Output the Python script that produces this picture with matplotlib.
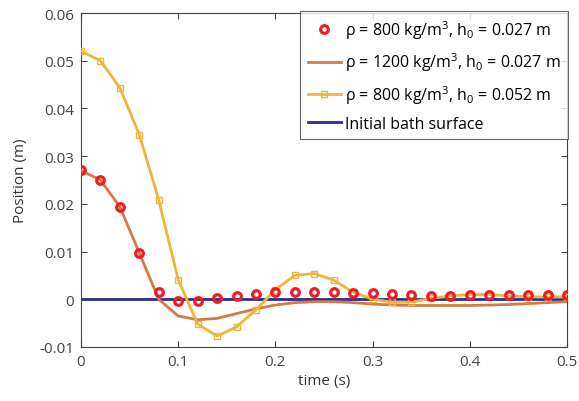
import matplotlib
matplotlib.use("Agg")
import matplotlib.pyplot as plt

plt.rcParams["font.family"] = ["Open Sans", "DejaVu Sans"]
plt.rcParams["mathtext.fontset"] = "custom"
plt.rcParams["mathtext.rm"] = "Open Sans"
plt.rcParams["mathtext.it"] = "Open Sans"
plt.rcParams["axes.unicode_minus"] = False

# sample times (s)
t = [i * 0.02 for i in range(26)]

# rho = 800, h0 = 0.027 (circles)
pos_800_027 = [0.0270, 0.0250, 0.0194, 0.0097, 0.0015, -0.0003, -0.0003, 0.0002,
               0.0007, 0.0012, 0.0015, 0.0015, 0.0015, 0.0015, 0.0013, 0.0013,
               0.0012, 0.0009, 0.0006, 0.0007, 0.0009, 0.0009, 0.0009, 0.0008,
               0.0008, 0.0008]

# rho = 1200, h0 = 0.027 (line)
pos_1200_027 = [0.0270, 0.0250, 0.0194, 0.0097, 0.0000, -0.0035, -0.0043, -0.0040,
                -0.0030, -0.0020, -0.0012, -0.0007, -0.0005, -0.0005, -0.0007, -0.0010,
                -0.0012, -0.0013, -0.0013, -0.0013, -0.0013, -0.0012, -0.0011, -0.0009,
                -0.0007, -0.0005]

# rho = 800, h0 = 0.052 (line + squares)
pos_800_052 = [0.0520, 0.0500, 0.0443, 0.0345, 0.0208, 0.0041, -0.0052, -0.0077,
               -0.0058, -0.0022, 0.0020, 0.0050, 0.0054, 0.0040, 0.0015, 0.0000,
               -0.0006, -0.0006, 0.0002, 0.0007, 0.0010, 0.0010, 0.0007, 0.0005,
               0.0005, 0.0005]

bath_t = [0, 0.5]
bath = [0, 0]

labels = [
    r"ρ = 800 kg/m$^3$, h$_0$ = 0.027 m",
    r"ρ = 1200 kg/m$^3$, h$_0$ = 0.027 m",
    r"ρ = 800 kg/m$^3$, h$_0$ = 0.052 m",
    "Initial bath surface",
]

fig = plt.figure(figsize=(5.79, 4.02), dpi=100)
ax = fig.add_axes([81 / 579, 1 - 348 / 402, (567 - 81) / 579, (348 - 14) / 402])

ax.plot(t, pos_800_027, "o", color="#ee1c25", mfc="none", mew=2.3, ms=5.5, label=labels[0], zorder=5)
ax.plot(t, pos_1200_027, "-", color="#d47a42", lw=2, label=labels[1], zorder=3)
ax.plot(t, pos_800_052, "-s", color="#efb43a", lw=2, mfc="none", ms=5, mew=1, label=labels[2], zorder=4)
ax.plot(bath_t, bath, "-", color="#2b2e8c", lw=2, label=labels[3], zorder=2)

ax.set_xlim(0, 0.5)
ax.set_ylim(-0.01, 0.06)
ax.set_xticks([0, 0.1, 0.2, 0.3, 0.4, 0.5])
ax.set_xticklabels(["0", "0.1", "0.2", "0.3", "0.4", "0.5"])
ax.set_yticks([-0.01, 0, 0.01, 0.02, 0.03, 0.04, 0.05, 0.06])
ax.set_yticklabels(["-0.01", "0", "0.01", "0.02", "0.03", "0.04", "0.05", "0.06"])
ax.tick_params(direction="in", top=True, right=True, labelsize=11, colors="#444444",
               length=4, width=0.8, pad=5)
for s in ax.spines.values():
    s.set_color("#444444")
    s.set_linewidth(0.8)

ax.set_xlabel("time (s)", fontsize=11, color="#333333", labelpad=3)
ax.set_ylabel("Position (m)", fontsize=11, color="#333333", labelpad=8)

leg = ax.legend(loc="upper right", fontsize=11.5, frameon=True, fancybox=False,
                borderaxespad=0.0, handlelength=2.1, handletextpad=0.25,
                labelspacing=0.62, borderpad=0.45, bbox_to_anchor=(1.002, 1.006))
leg.get_frame().set_edgecolor("#444444")
leg.get_frame().set_linewidth(0.8)

fig.savefig("out.png", dpi=100)
